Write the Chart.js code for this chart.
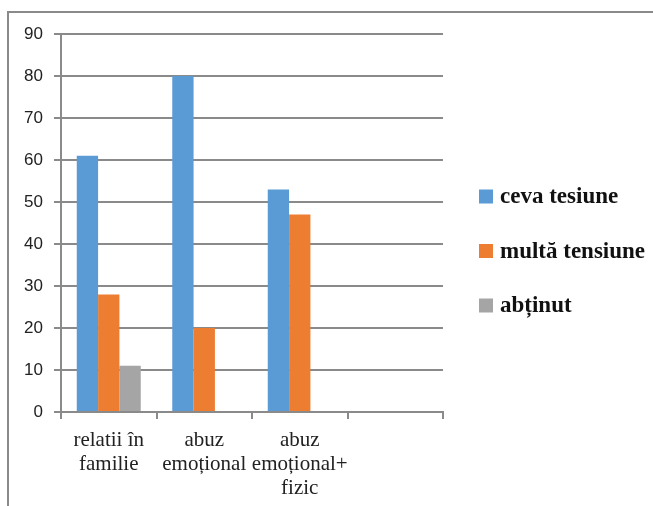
<!DOCTYPE html>
<html>
<head>
<meta charset="utf-8">
<script src="https://cdn.jsdelivr.net/npm/chart.js@4.4.1/dist/chart.umd.min.js"></script>
<style>
  html, body { margin: 0; padding: 0; background: #fff; }
  #wrap { position: relative; width: 653px; height: 506px; overflow: hidden; }
  #frame { position: absolute; left: 7px; top: 11px; width: 700px; height: 600px;
           border-top: 2px solid #8a8a8a; border-left: 2px solid #8a8a8a; box-sizing: border-box; }
  canvas { position: absolute; left: 0; top: 0; }
</style>
</head>
<body>
<div id="wrap">
  <div id="frame"></div>
  <canvas id="c" width="653" height="506"></canvas>
</div>
<script>
const categories = [["relatii în", "familie"], ["abuz", "emoțional"], ["abuz", "emoțional+", "fizic"], ""];
const seriesNames = ["ceva tesiune", "multă tensiune", "abținut"];
const cevaTesiune = [61, 80, 53, null];
const multaTensiune = [28, 20, 47, null];
const abtinut = [11, null, null, null];
const yTicks = { min: 0, max: 90, step: 10 };
const colors = ["#5b9bd5", "#ed7d31", "#a5a5a5"];

const legendPlugin = {
  id: 'sideLegend',
  afterDraw(chart) {
    const ctx = chart.ctx;
    ctx.save();
    ctx.font = 'bold 23px "Liberation Serif", serif';
    ctx.textBaseline = 'middle';
    chart.data.datasets.forEach((ds, i) => {
      const y = 196.5 + i * 54.5;
      ctx.fillStyle = ds.backgroundColor;
      ctx.fillRect(479, y - 7, 14, 14);
      ctx.fillStyle = '#111';
      ctx.fillText(ds.label, 500, y + 1);
    });
    ctx.restore();
  }
};

new Chart(document.getElementById('c'), {
  type: 'bar',
  data: {
    labels: categories,
    datasets: [
      { label: seriesNames[0], data: cevaTesiune, backgroundColor: colors[0] },
      { label: seriesNames[1], data: multaTensiune, backgroundColor: colors[1] },
      { label: seriesNames[2], data: abtinut, backgroundColor: colors[2] }
    ]
  },
  options: {
    responsive: false,
    animation: false,
    layout: { padding: { top: 34, right: 210, left: 0, bottom: 0 } },
    datasets: { bar: { categoryPercentage: 0.67, barPercentage: 1.0 } },
    plugins: { legend: { display: false }, tooltip: { enabled: false } },
    scales: {
      x: {
        afterFit: s => { s.height = 94; },
        grid: { drawOnChartArea: false, drawTicks: true, tickLength: 7, color: '#8a8a8a', lineWidth: 2 },
        border: { color: '#8a8a8a', width: 2 },
        ticks: { color: '#222', font: { family: '"Liberation Serif", serif', size: 21, lineHeight: '24px' }, padding: 9, maxRotation: 0, autoSkip: false }
      },
      y: {
        min: yTicks.min, max: yTicks.max,
        afterFit: s => { s.width = 61; },
        grid: { color: '#8a8a8a', lineWidth: 2, tickLength: 7 },
        border: { color: '#8a8a8a', width: 2 },
        ticks: { stepSize: yTicks.step, color: '#222', font: { family: '"Liberation Sans", Arial, sans-serif', size: 17 }, padding: 11 }
      }
    }
  },
  plugins: [legendPlugin]
});
</script>
</body>
</html>
